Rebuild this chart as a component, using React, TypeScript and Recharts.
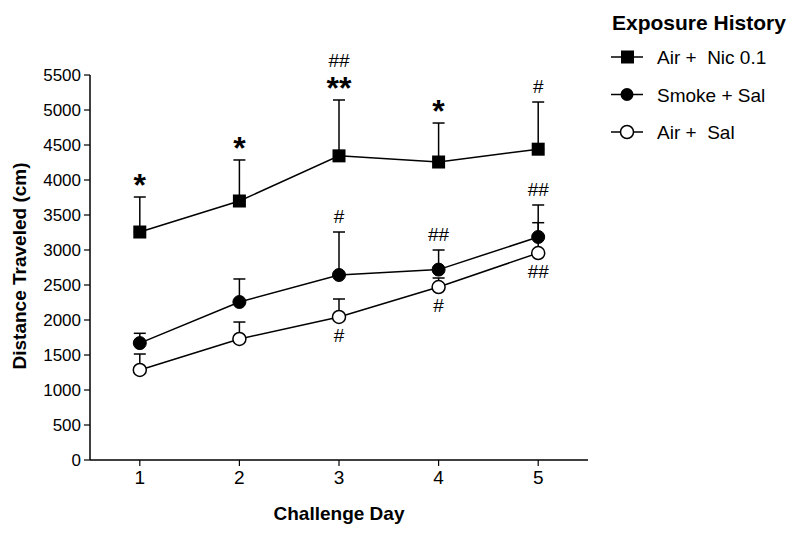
import React from 'react';
import {
  LineChart,
  Line,
  XAxis,
  YAxis,
  ErrorBar,
  LabelList
} from 'recharts';

// challenge days
const days = [1, 2, 3, 4, 5];

// means and upper error bar ends (cm)
const nicMean = [3257, 3700, 4345, 4257, 4440];
const nicTop = [3757, 4286, 5143, 4814, 5114];
const smokeMean = [1670, 2257, 2643, 2720, 3186];
const smokeTop = [1810, 2586, 3257, 3000, 3643];
const airMean = [1286, 1729, 2043, 2471, 2957];
const airTop = [1514, 1971, 2300, 2600, 3390];

// significance marks
const nicMarks = ['*', '*', '**', '*', '#'];
const nicMarks2 = ['', '', '##', '', ''];
const smokeMarks = ['', '', '#', '##', '##'];
const airMarks = ['', '', '#', '#', '##'];

const yTicks = [0, 500, 1000, 1500, 2000, 2500, 3000, 3500, 4000, 4500, 5000, 5500];

const legendItems = [
  { name: 'Air +\u00a0 Nic 0.1', shape: 'square' },
  { name: 'Smoke + Sal', shape: 'filled' },
  { name: 'Air +\u00a0 Sal', shape: 'open' }
];

const data = days.map((d, i) => ({
  day: d,
  nic: nicMean[i],
  nicErr: [0, nicTop[i] - nicMean[i]],
  nicTop: nicTop[i],
  nicMark: nicMarks[i],
  nicMark2: nicMarks2[i],
  smoke: smokeMean[i],
  smokeErr: [0, smokeTop[i] - smokeMean[i]],
  smokeTop: smokeTop[i],
  smokeMark: smokeMarks[i],
  air: airMean[i],
  airErr: [0, airTop[i] - airMean[i]],
  airMark: airMarks[i]
}));

const FONT = "'Liberation Sans', Arial, sans-serif";

const SquareDot = (props: any) => {
  const { cx, cy, index } = props;
  if (cx == null || cy == null) return <g key={`sq-${index}`} />;
  return <rect key={`sq-${index}`} x={cx - 6.5} y={cy - 6.5} width={13} height={13} fill="#000" />;
};

// mark drawn above the error bar cap
const AboveMark = (props: any) => {
  const { x, y, value, index } = props;
  if (!value) return null;
  if (String(value).includes('*')) {
    return (
      <text key={`a-${index}`} x={x} y={y - 1} textAnchor="middle" fontFamily={FONT} fontWeight="bold" fontSize={32} fill="#000">
        {value}
      </text>
    );
  }
  return (
    <text key={`a-${index}`} x={x} y={y - 9} textAnchor="middle" fontFamily={FONT} fontSize={19} fill="#000">
      {value}
    </text>
  );
};

const AboveMark2 = (props: any) => {
  const { x, y, value, index } = props;
  if (!value) return null;
  return (
    <text key={`a2-${index}`} x={x} y={y - 33} textAnchor="middle" fontFamily={FONT} fontSize={19} fill="#000">
      {value}
    </text>
  );
};

// mark drawn under the point
const BelowMark = (props: any) => {
  const { x, y, value, index } = props;
  if (!value) return null;
  return (
    <text key={`b-${index}`} x={x} y={y + 25} textAnchor="middle" fontFamily={FONT} fontSize={19} fill="#000">
      {value}
    </text>
  );
};

const YLabel = () => (
  <text x={26} y={266} transform="rotate(-90 26 266)" textAnchor="middle" fontFamily={FONT} fontWeight="bold" fontSize={19} fill="#000">
    Distance Traveled (cm)
  </text>
);

const XLabel = () => (
  <text x={339} y={520} textAnchor="middle" fontFamily={FONT} fontWeight="bold" fontSize={19} fill="#000">
    Challenge Day
  </text>
);

const LegendBox = () => (
  <svg width={205} height={150} style={{ position: 'absolute', left: 595, top: 0 }}>
    <text x={17} y={30} fontFamily={FONT} fontWeight="bold" fontSize={21} fill="#000">
      Exposure History
    </text>
    {legendItems.map((it, i) => {
      const cy = 57 + i * 37.5;
      return (
        <g key={it.name}>
          <line x1={16} x2={48} y1={cy} y2={cy} stroke="#000" strokeWidth={1.5} />
          {it.shape === 'square' && <rect x={26} y={cy - 6.5} width={13} height={13} fill="#000" />}
          {it.shape === 'filled' && <circle cx={32} cy={cy} r={6.5} fill="#000" />}
          {it.shape === 'open' && <circle cx={32} cy={cy} r={6.5} fill="#fff" stroke="#000" strokeWidth={1.5} />}
          <text x={62} y={cy + 7} fontFamily={FONT} fontSize={19} fill="#000">
            {it.name}
          </text>
        </g>
      );
    })}
  </svg>
);

export default function App() {
  return (
    <div style={{ position: 'absolute', left: 0, top: 0, width: 800, height: 535, background: '#fff' }}>
      <LineChart width={800} height={535} data={data} margin={{ top: 75, right: 212, left: 0, bottom: 0 }}>
        <XAxis
          type="number"
          dataKey="day"
          domain={[0.5, 5.5]}
          ticks={days}
          height={75}
          tickSize={6}
          tickMargin={5}
          axisLine={{ stroke: '#000', strokeWidth: 1.5 }}
          tickLine={{ stroke: '#000', strokeWidth: 1.2 }}
          tick={{ fill: '#000', fontSize: 19, fontFamily: FONT }}
          label={{ content: XLabel }}
        />
        <YAxis
          type="number"
          domain={[0, 5500]}
          ticks={yTicks}
          interval={0}
          width={90}
          tickSize={6}
          tickMargin={3}
          axisLine={{ stroke: '#000', strokeWidth: 1.5 }}
          tickLine={{ stroke: '#000', strokeWidth: 1.2 }}
          tick={{ fill: '#000', fontSize: 17, fontFamily: FONT }}
          label={{ content: YLabel }}
        />
        {/* error bars first, so the markers cover the lower caps */}
        <Line type="linear" dataKey="air" stroke="none" dot={false} activeDot={false} isAnimationActive={false}>
          <ErrorBar dataKey="airErr" width={6} stroke="#000" strokeWidth={1.5} direction="y" />
        </Line>
        <Line type="linear" dataKey="smoke" stroke="none" dot={false} activeDot={false} isAnimationActive={false}>
          <ErrorBar dataKey="smokeErr" width={6} stroke="#000" strokeWidth={1.5} direction="y" />
        </Line>
        <Line type="linear" dataKey="nic" stroke="none" dot={false} activeDot={false} isAnimationActive={false}>
          <ErrorBar dataKey="nicErr" width={6} stroke="#000" strokeWidth={1.5} direction="y" />
        </Line>
        <Line type="linear" dataKey="nicTop" stroke="none" dot={false} activeDot={false} isAnimationActive={false}>
          <LabelList dataKey="nicMark" content={AboveMark} />
          <LabelList dataKey="nicMark2" content={AboveMark2} />
        </Line>
        <Line type="linear" dataKey="smokeTop" stroke="none" dot={false} activeDot={false} isAnimationActive={false}>
          <LabelList dataKey="smokeMark" content={AboveMark} />
        </Line>
        <Line
          type="linear"
          dataKey="air"
          stroke="#000"
          strokeWidth={1.5}
          dot={{ r: 6.5, fill: '#fff', stroke: '#000', strokeWidth: 1.5 }}
          activeDot={false}
          isAnimationActive={false}
        >
          <LabelList dataKey="airMark" content={BelowMark} />
        </Line>
        <Line
          type="linear"
          dataKey="smoke"
          stroke="#000"
          strokeWidth={1.5}
          dot={{ r: 6.5, fill: '#000', stroke: '#000', strokeWidth: 1 }}
          activeDot={false}
          isAnimationActive={false}
        />
        <Line
          type="linear"
          dataKey="nic"
          stroke="#000"
          strokeWidth={1.5}
          dot={SquareDot}
          activeDot={false}
          isAnimationActive={false}
        />
      </LineChart>
      <LegendBox />
    </div>
  );
}
